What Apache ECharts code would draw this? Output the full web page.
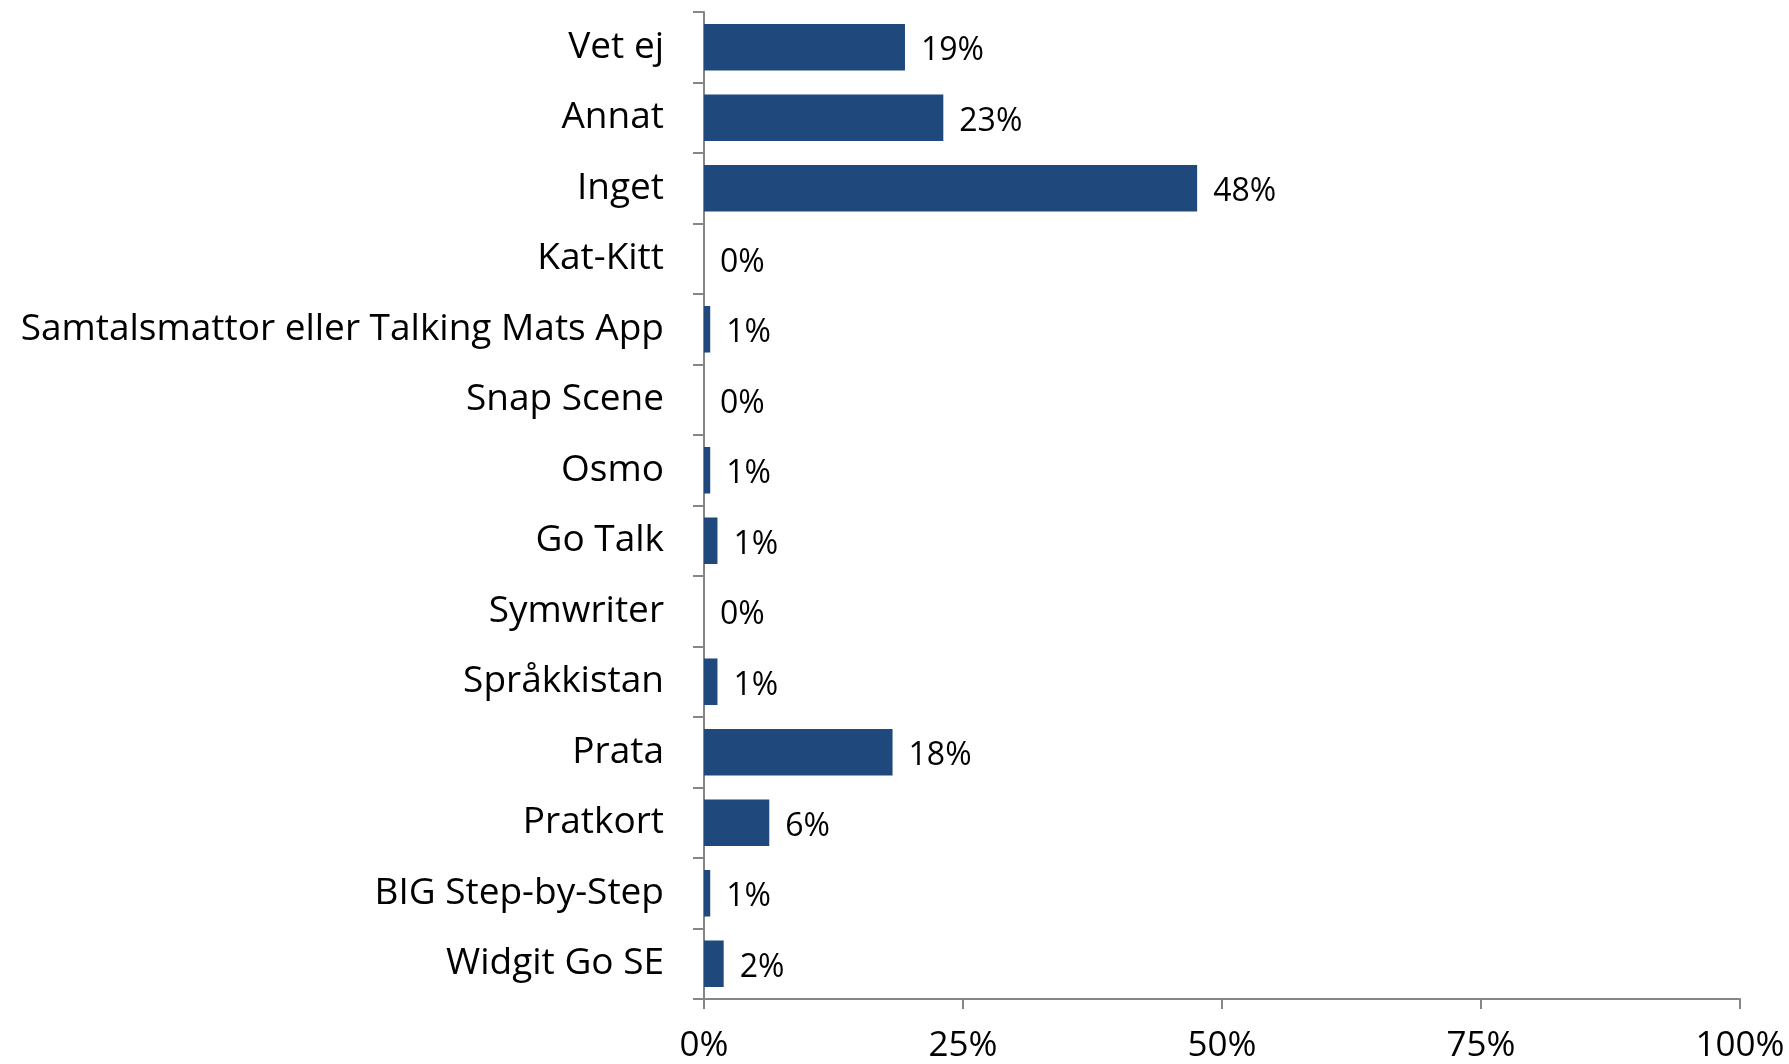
<!DOCTYPE html>
<html>
<head>
<meta charset="utf-8">
<script src="https://cdn.jsdelivr.net/npm/echarts@6/dist/echarts.min.js"></script>
<style>html,body{margin:0;padding:0;background:#fff}#c{width:1789px;height:1064px}</style>
</head>
<body>
<div id="c"></div>
<script>
const categories = ["Vet ej","Annat","Inget","Kat-Kitt","Samtalsmattor eller Talking Mats App","Snap Scene","Osmo","Go Talk","Symwriter","Språkkistan","Prata","Pratkort","BIG Step-by-Step","Widgit Go SE"];
const values = [19.4, 23.1, 47.6, 0, 0.6, 0, 0.6, 1.3, 0, 1.3, 18.2, 6.3, 0.6, 1.9];
const xTicks = [0, 25, 50, 75, 100];

const FONT = "Open Sans";
const chart = echarts.init(document.getElementById('c'));
chart.setOption({
  animation: false,
  grid: {left: 704, right: 49, top: 12, bottom: 64, containLabel: false},
  xAxis: {
    type: 'value', min: xTicks[0], max: xTicks[xTicks.length - 1], interval: 25,
    axisLine: {show: true, lineStyle: {color: '#868686', width: 2}},
    axisTick: {show: true, length: 10, lineStyle: {color: '#868686', width: 2}},
    splitLine: {show: false},
    axisLabel: {formatter: v => v + '%', fontFamily: FONT, fontSize: 35, color: '#000', margin: 30}
  },
  yAxis: {
    type: 'category', inverse: true, data: categories,
    axisLine: {show: true, lineStyle: {color: '#868686', width: 2}},
    axisTick: {show: true, length: 11, alignWithLabel: false, lineStyle: {color: '#868686', width: 2}},
    axisLabel: {fontFamily: FONT, fontSize: 37, color: '#000', margin: 40, padding: [5, 0, 0, 0]}
  },
  series: [{
    type: 'bar', data: values, barCategoryGap: '34%',
    itemStyle: {color: '#1f497d'},
    label: {show: true, position: 'right', distance: 16, offset: [0, 4], fontFamily: FONT, fontSize: 32, color: '#000',
      formatter: p => Math.round(p.value) + '%'}
  }]
});
</script>
</body>
</html>
